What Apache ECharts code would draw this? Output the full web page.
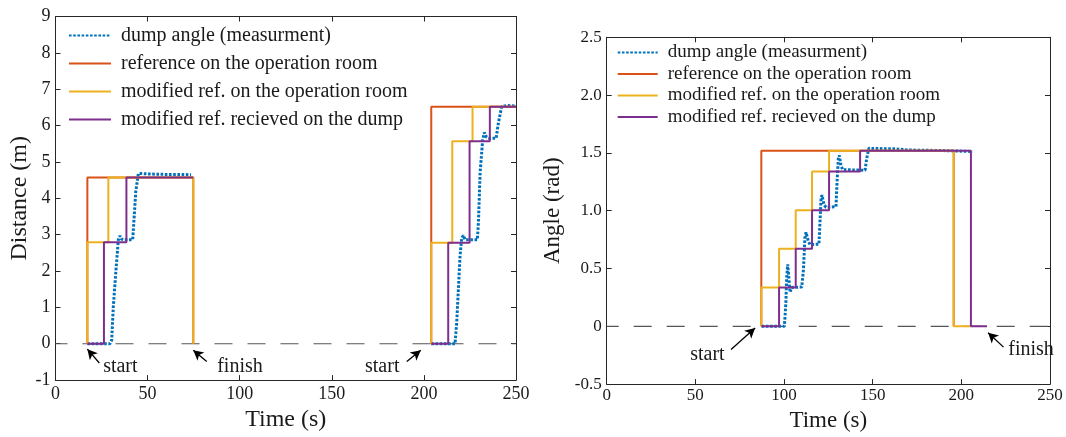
<!DOCTYPE html>
<html>
<head>
<meta charset="utf-8">
<script src="https://cdn.jsdelivr.net/npm/echarts@6/dist/echarts.min.js"></script>
<style>
  html, body { margin: 0; padding: 0; background: #fff; }
  #chart { width: 1066px; height: 437px; }
</style>
</head>
<body>
<div id="chart"></div>
<script>
// legend names (same four series in both panels)
const names = [
  'dump angle (measurment)',
  'reference on the operation room',
  'modified ref. on the operation room',
  'modified ref. recieved on the dump'
];

// left panel: distance (m) vs time (s), '-' breaks the line between the two runs
const distMeas = [
  [17.3, 0], [29.6, 0], [30.5, 0.1], [31.4, 1.03], [32.7, 1.94], [34.1, 2.86], [35.0, 2.97],
  [35.8, 2.88], [37, 2.86], [41.9, 2.86], [42.6, 3.4], [43.6, 4.2], [45.0, 4.68], [45.5, 4.73],
  [46.5, 4.68], [55, 4.66], [73.6, 4.65], '-',
  [204, 0], [216.9, 0], [217.8, 0.57], [218.7, 1.48], [219.6, 2.4], [220.5, 2.9], [221.4, 2.98],
  [222.3, 2.86], [229, 2.86], [229.6, 3.32], [230.5, 4.69], [231.9, 5.6], [232.8, 5.81],
  [234, 5.68], [235.5, 5.65], [239.2, 5.65], [240.4, 6.06], [242.2, 6.52], [243.1, 6.57],
  [245, 6.55], [250, 6.54]
];
const distRef = [
  [17.3, 0], [17.3, 4.57], [74.8, 4.57], [74.8, 0], '-',
  [204, 0], [204, 6.52], [250, 6.52]
];
const distMod = [
  [17.3, 0], [17.3, 2.79], [28.7, 2.79], [28.7, 4.57], [74.8, 4.57], [74.8, 0], '-',
  [204, 0], [204, 2.78], [215.4, 2.78], [215.4, 5.57], [226.4, 5.57], [226.4, 6.52], [250, 6.52]
];
const distRecv = [
  [17.3, 0], [26.3, 0], [26.3, 2.79], [38.5, 2.79], [38.5, 4.57], [74.8, 4.57], '-',
  [204, 0], [213.2, 0], [213.2, 2.78], [224.8, 2.78], [224.8, 5.57], [235.8, 5.57],
  [235.8, 6.52], [250, 6.52]
];

// right panel: angle (rad) vs time (s)
const angMeas = [
  [87.4, 0], [100.2, 0], [101.0, 0.19], [101.5, 0.42], [102.1, 0.536], [103.0, 0.365],
  [103.4, 0.294], [104.3, 0.336], [110.0, 0.34], [110.9, 0.48], [111.8, 0.765], [112.4, 0.813],
  [113.7, 0.736], [114.7, 0.707], [119.7, 0.71], [120.3, 0.907], [120.9, 1.107], [121.4, 1.135],
  [122.6, 1.05], [123.7, 1.03], [129.3, 1.035], [129.9, 1.25], [130.6, 1.45], [131.2, 1.478],
  [132.1, 1.39], [133.1, 1.355], [145.7, 1.35], [146.6, 1.45], [147.8, 1.54], [150, 1.538],
  [163, 1.535], [170, 1.525], [190, 1.52], [206.2, 1.512]
];
const angRef = [[87.2, 0], [87.2, 1.518], [195.7, 1.518], [195.7, 0]];
const angMod = [
  [87.2, 0], [87.2, 0.336], [97.2, 0.336], [97.2, 0.670], [106.6, 0.670], [106.6, 1.004],
  [115.8, 1.004], [115.8, 1.340], [125.4, 1.340], [125.4, 1.518], [195.7, 1.518], [195.7, 0],
  [205.4, 0]
];
const angRecv = [
  [87.2, 0], [97.2, 0], [97.2, 0.336], [106.6, 0.336], [106.6, 0.670], [115.8, 0.670],
  [115.8, 1.004], [125.4, 1.004], [125.4, 1.340], [142.9, 1.340], [142.9, 1.518],
  [205.4, 1.518], [205.4, 0], [214.5, 0]
];

const zeroLine = [[0, 0], [250, 0]];

// annotations: [tailX, tailY, tipX, tipY], text anchors [x, y, text, side]
const distArrows = [[23.8, -0.53, 17.3, -0.15], [82.1, -0.49, 74.8, -0.18], [190.7, -0.49, 198.3, -0.18]];
const distNotes = [[25.6, -0.64, 'start', 'right'], [87.5, -0.62, 'finish', 'right'], [187.0, -0.62, 'start', 'left']];
const angArrows = [[70.1, -0.2, 83.7, -0.015], [223.8, -0.18, 215.1, -0.055]];
const angNotes = [[66.8, -0.25, 'start', 'left'], [226.2, -0.2, 'finish', 'right']];

const colors = ['#0072BD', '#D95319', '#EDB120', '#7E2F8E'];
const FONT = 'Liberation Serif';
const INK = '#1a1a1a';

const chart = echarts.init(document.getElementById('chart'));

function xAxisPair(grid, fs, margin, gap) {
  const base = {
    type: 'value', gridIndex: grid, min: 0, max: 250, interval: 50,
    axisLine: { onZero: false, lineStyle: { color: '#262626', width: 1 } },
    axisTick: { inside: true, length: 5, lineStyle: { color: '#262626' } },
    splitLine: { show: false }
  };
  return [
    Object.assign({}, base, {
      position: 'bottom', name: 'Time (s)', nameLocation: 'middle', nameGap: gap,
      nameTextStyle: { fontFamily: FONT, fontSize: fs + 6, color: INK },
      axisLabel: { fontFamily: FONT, fontSize: fs, color: INK, margin: margin }
    }),
    Object.assign({}, base, { position: 'top', axisLabel: { show: false } })
  ];
}

function yAxisPair(grid, min, max, step, name, fs, margin, gap, fmt) {
  const base = {
    type: 'value', gridIndex: grid, min: min, max: max, interval: step,
    axisLine: { show: true, onZero: false, lineStyle: { color: '#262626', width: 1 } },
    axisTick: { show: true, inside: true, length: 5, lineStyle: { color: '#262626' } },
    splitLine: { show: false }
  };
  return [
    Object.assign({}, base, {
      position: 'left', name: name, nameLocation: 'middle', nameGap: gap,
      nameTextStyle: { fontFamily: FONT, fontSize: fs + 6, color: INK },
      axisLabel: { fontFamily: FONT, fontSize: fs, color: INK, margin: margin, formatter: fmt }
    }),
    Object.assign({}, base, { position: 'right', axisLabel: { show: false } })
  ];
}

function makeSeries(ax, data) {
  return data.map((d, i) => ({
    name: names[i],
    type: 'line',
    xAxisIndex: ax, yAxisIndex: ax,
    data: d,
    symbol: 'none',
    connectNulls: false,
    lineStyle: i === 0
      ? { color: colors[0], width: 3, type: [2.6, 1.6] }
      : { color: colors[i], width: 2 },
    itemStyle: { color: colors[i] },
    z: 3 + i
  }));
}

function zeroSeries(ax, arrows, notes, fs) {
  return {
    type: 'line', xAxisIndex: ax, yAxisIndex: ax,
    data: zeroLine, symbol: 'none', silent: true, z: 2,
    lineStyle: { color: '#555', width: 1.2, type: [18, 15], dashOffset: 6 },
    markLine: {
      silent: true, animation: false,
      symbol: ['none', 'arrow'], symbolSize: [8, 10],
      label: { show: false },
      lineStyle: { color: '#000', width: 1.3, type: 'solid' },
      data: arrows.map(a => [{ coord: [a[0], a[1]] }, { coord: [a[2], a[3]] }])
    },
    markPoint: {
      silent: true, animation: false,
      data: notes.map(n => ({
        coord: [n[0], n[1]], symbol: 'circle', symbolSize: 1,
        itemStyle: { color: 'rgba(0,0,0,0)' },
        label: {
          show: true, formatter: n[2], position: n[3], distance: 0,
          fontFamily: FONT, fontSize: fs, color: INK
        }
      }))
    }
  };
}

const option = {
  animation: false,
  backgroundColor: '#fff',
  grid: [
    { left: 55.5, right: 550, top: 16.5, bottom: 56.7 },
    { left: 606.7, right: 16, top: 37.3, bottom: 49.3 }
  ],
  legend: [
    {
      data: names, orient: 'vertical', left: 68, top: 25.5, padding: 0,
      itemWidth: 42, itemHeight: 12, itemGap: 8,
      itemStyle: { opacity: 0 },
      textStyle: { fontFamily: FONT, fontSize: 20, lineHeight: 20, color: INK, padding: [0, 0, 0, 5] }
    },
    {
      data: names, orient: 'vertical', left: 616.7, top: 43, padding: 0,
      itemWidth: 40, itemHeight: 12, itemGap: 2.5,
      itemStyle: { opacity: 0 },
      textStyle: { fontFamily: FONT, fontSize: 19, lineHeight: 19, color: INK, padding: [0, 0, 0, 5] }
    }
  ],
  xAxis: [].concat(xAxisPair(0, 18, 5, 27), xAxisPair(1, 17, 3, 23)),
  yAxis: [].concat(
    yAxisPair(0, -1, 9, 1, 'Distance (m)', 18, 5, 24, v => String(v)),
    yAxisPair(1, -0.5, 2.5, 0.5, 'Angle (rad)', 17, 5, 42, v => (v === 0 ? '0' : v.toFixed(1)))
  ),
  series: [].concat(
    [zeroSeries(0, distArrows, distNotes, 20)],
    makeSeries(0, [distMeas, distRef, distMod, distRecv]),
    [zeroSeries(2, angArrows, angNotes, 20)],
    makeSeries(2, [angMeas, angRef, angMod, angRecv])
  )
};

// the top/right mirror axes (indices 1 and 3) only draw the box and its ticks
chart.setOption(option);
</script>
</body>
</html>
